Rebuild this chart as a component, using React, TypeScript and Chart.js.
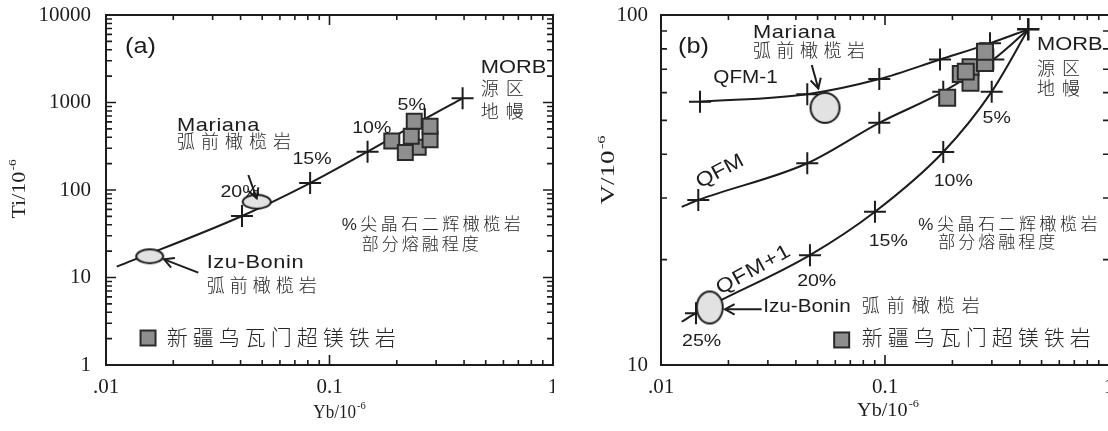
import React, { useEffect, useRef } from 'react';
import { Chart, registerables } from 'chart.js';

Chart.register(...registerables);

const SANS = '"Liberation Sans", Arial, sans-serif';
const CJK = '"Noto Sans CJK SC", "Noto Sans CJK JP", sans-serif';
const SERIF = '"Liberation Serif", "Times New Roman", serif';
const INK = '#1c1c1c';
const LATIN_STRETCH = 1.15;

// ---------- shared x axis (Yb) ----------
const ybTickValues = [0.01, 0.1, 1];
const ybTickLabels = ['.01', '0.1', '1'];

// ---------- panel (a): Ti vs Yb ----------
const aTiTickValues = [1, 10, 100, 1000, 10000];
const aTiTickLabels = ['1', '10', '100', '1000', '10000'];
const aMeltYb = [0.01117, 0.0406, 0.0819, 0.148, 0.267, 0.394];
const aMeltTi = [13.3, 50.5, 120, 274, 648, 1117];
const aCrossYb = [0.0406, 0.0819, 0.148, 0.267, 0.394];
const aCrossTi = [50.5, 120, 274, 648, 1117];
const aForearcNames = ['Izu-Bonin', 'Mariana'];
const aForearcYb = [0.01569, 0.04723];
const aForearcTi = [17.47, 73.5];
const aSampleYb = [0.2494, 0.19, 0.2184, 0.2322, 0.2394, 0.2818, 0.2818];
const aSampleTi = [308, 363, 268, 412, 611, 375, 535];

// ---------- panel (b): V vs Yb ----------
const bVTickValues = [10, 100];
const bVTickLabels = ['10', '100'];
const bQfmM1Yb = [0.01493, 0.04498, 0.0943, 0.176, 0.2943, 0.436];
const bQfmM1V = [56.5, 59.4, 65.6, 74.6, 83.0, 91.0];
const bQfmYb = [0.01237, 0.01467, 0.04498, 0.0943, 0.182, 0.3045, 0.436];
const bQfmV = [28.3, 29.6, 37.7, 49.2, 60.4, 74.6, 91.0];
const bQfmP1Yb = [0.01237, 0.01433, 0.04624, 0.0902, 0.182, 0.2995, 0.436];
const bQfmP1V = [13.29, 14.06, 20.6, 27.4, 40.6, 60.4, 91.0];
const bForearcNames = ['Izu-Bonin', 'Mariana'];
const bForearcYb = [0.0165, 0.054];
const bForearcV = [14.6, 54.3];
const bSampleYb = [0.241, 0.2179, 0.2408, 0.2294, 0.1895, 0.2795, 0.2795];
const bSampleV = [70.9, 67.8, 64.0, 68.9, 58.0, 72.9, 78.5];

type Lbl = { text: string; x: number; y: number; size: number; ls: number; cjk?: boolean; align?: 'left' | 'center'; rot?: number };
type Arrow = { x1: number; y1: number; x2: number; y2: number };

const aLabels: Lbl[] = [
  { text: '(a)', x: 0.01216, y: 4307, size: 22, ls: 0 },
  { text: 'Mariana', x: 0.0208, y: 539, size: 19, ls: 0.5 },
  { text: '弧前橄榄岩', x: 0.0208, y: 344, size: 18, ls: 6, cjk: true },
  { text: '20%', x: 0.03977, y: 94.9, size: 17, ls: 0, align: 'center' },
  { text: '15%', x: 0.08351, y: 226, size: 17, ls: 0, align: 'center' },
  { text: '10%', x: 0.1545, y: 511, size: 17, ls: 0, align: 'center' },
  { text: '5%', x: 0.2332, y: 936, size: 17, ls: 0, align: 'center' },
  { text: 'MORB', x: 0.4747, y: 2478, size: 19, ls: 0 },
  { text: '源区', x: 0.4747, y: 1389, size: 18, ls: 7, cjk: true },
  { text: '地幔', x: 0.4747, y: 759, size: 18, ls: 7, cjk: true },
  { text: '%尖晶石二辉橄榄岩', x: 0.1134, y: 39.8, size: 17, ls: 3.5, cjk: true },
  { text: '部分熔融程度', x: 0.1393, y: 23.5, size: 17, ls: 3, cjk: true },
  { text: 'Izu-Bonin', x: 0.02822, y: 14.65, size: 19, ls: 0.5 },
  { text: '弧前橄榄岩', x: 0.02822, y: 7.85, size: 18, ls: 5, cjk: true },
  { text: '新疆乌瓦门超镁铁岩', x: 0.01869, y: 1.966, size: 21, ls: 5, cjk: true },
];
const aArrows: Arrow[] = [
  { x1: 0.04332, y1: 148.4, x2: 0.04723, y2: 80.4 },
  { x1: 0.02588, y1: 11.35, x2: 0.01818, y2: 16.14 },
];

const bLabels: Lbl[] = [
  { text: '(b)', x: 0.01191, y: 81.2, size: 22, ls: 0 },
  { text: 'Mariana', x: 0.02574, y: 88.7, size: 19, ls: 0.5 },
  { text: '弧前橄榄岩', x: 0.02574, y: 78.4, size: 18, ls: 5.5, cjk: true },
  { text: 'QFM-1', x: 0.01712, y: 65.9, size: 18, ls: 0 },
  { text: 'QFM', x: 0.01834, y: 35.7, size: 20, ls: 0, align: 'center', rot: -28 },
  { text: 'QFM+1', x: 0.02582, y: 18.67, size: 20, ls: 1, align: 'center', rot: -29 },
  { text: '20%', x: 0.04955, y: 17.3, size: 17, ls: 0, align: 'center' },
  { text: '25%', x: 0.01519, y: 11.66, size: 17, ls: 0, align: 'center' },
  { text: 'Izu-Bonin', x: 0.0286, y: 14.68, size: 18, ls: 0 },
  { text: '弧前橄榄岩', x: 0.0787, y: 14.68, size: 18, ls: 7, cjk: true },
  { text: '15%', x: 0.1034, y: 22.5, size: 17, ls: 0, align: 'center' },
  { text: '10%', x: 0.2018, y: 33.4, size: 17, ls: 0, align: 'center' },
  { text: '5%', x: 0.3152, y: 50.7, size: 17, ls: 0, align: 'center' },
  { text: 'MORB', x: 0.4771, y: 82.1, size: 19, ls: 0 },
  { text: '源区', x: 0.4771, y: 69.7, size: 18, ls: 7, cjk: true },
  { text: '地幔', x: 0.4771, y: 61.1, size: 18, ls: 7, cjk: true },
  { text: '%尖晶石二辉橄榄岩', x: 0.1408, y: 25.1, size: 17, ls: 3.5, cjk: true },
  { text: '部分熔融程度', x: 0.173, y: 22.3, size: 17, ls: 3, cjk: true },
  { text: '新疆乌瓦门超镁铁岩', x: 0.0787, y: 11.87, size: 21, ls: 5, cjk: true },
];
const bArrows: Arrow[] = [
  { x1: 0.0471, y1: 71.97, x2: 0.05038, y2: 61.7 },
  { x1: 0.02816, y1: 14.42, x2: 0.0193, y2: 14.42 },
];

interface Spec {
  canvasWidth: number;
  yMin: number; yMax: number;
  yTickValues: number[]; yTickLabels: string[];
  yAxisWidth: number; yPad: number;
  curves: { x: number[]; y: number[] }[];
  crosses: { x: number[]; y: number[] }[];
  fieldNames: string[]; fieldX: number[]; fieldY: number[]; fieldSizes: [number, number][];
  sampleX: number[]; sampleY: number[]; sampleRadius: number;
  labels: Lbl[]; arrows: Arrow[];
  legendMarker: { x: number; y: number; size: number };
  xTitle: [string, string]; yTitle: [string, string];
  xTitleDx: number; xTitleY: number; xTitleSx: number;
  yTitleX: number; yTitleY: number; yTitleSx: number;
}

const specA: Spec = {
  canvasWidth: 554,
  yMin: 1, yMax: 10000,
  yTickValues: aTiTickValues, yTickLabels: aTiTickLabels,
  yAxisWidth: 106, yPad: 15,
  curves: [{ x: aMeltYb, y: aMeltTi }],
  crosses: [{ x: aCrossYb, y: aCrossTi }],
  fieldNames: aForearcNames, fieldX: aForearcYb, fieldY: aForearcTi, fieldSizes: [[27, 14], [28, 14]],
  sampleX: aSampleYb, sampleY: aSampleTi, sampleRadius: 10.6,
  labels: aLabels, arrows: aArrows,
  legendMarker: { x: 0.01542, y: 2.035, size: 15 },
  xTitle: ['Yb/10', '-6'], yTitle: ['Ti/10', '-6'],
  xTitleDx: 10, xTitleY: 412, xTitleSx: 0.95,
  yTitleX: 19, yTitleY: 189, yTitleSx: 1.22,
};

const specB: Spec = {
  canvasWidth: 556,
  yMin: 10, yMax: 100,
  yTickValues: bVTickValues, yTickLabels: bVTickLabels,
  yAxisWidth: 107, yPad: 13,
  curves: [
    { x: bQfmM1Yb, y: bQfmM1V },
    { x: bQfmYb, y: bQfmV },
    { x: bQfmP1Yb, y: bQfmP1V },
  ],
  crosses: [
    { x: bQfmM1Yb, y: bQfmM1V },
    { x: bQfmYb.slice(1), y: bQfmV.slice(1) },
    { x: bQfmP1Yb.slice(1), y: bQfmP1V.slice(1) },
  ],
  fieldNames: bForearcNames, fieldX: bForearcYb, fieldY: bForearcV, fieldSizes: [[26, 32], [29, 30]],
  sampleX: bSampleYb, sampleY: bSampleV, sampleRadius: 11.3,
  labels: bLabels, arrows: bArrows,
  legendMarker: { x: 0.06406, y: 11.79, size: 15 },
  xTitle: ['Yb/10', '-6'], yTitle: ['V/10', '-6'],
  xTitleDx: 3, xTitleY: 410, xTitleSx: 1.12,
  yTitleX: 54, yTitleY: 170, yTitleSx: 1.5,
};

function makeEllipse(w: number, h: number): HTMLCanvasElement {
  const c = document.createElement('canvas');
  c.width = w + 4;
  c.height = h + 4;
  const g = c.getContext('2d')!;
  g.beginPath();
  g.ellipse(c.width / 2, c.height / 2, w / 2, h / 2, 0, 0, Math.PI * 2);
  g.fillStyle = '#e2e2e2';
  g.fill();
  g.lineWidth = 2;
  g.strokeStyle = INK;
  g.stroke();
  return c;
}

function drawLabel(ctx: CanvasRenderingContext2D, a: Lbl, px: number, py: number) {
  ctx.save();
  ctx.font = a.cjk ? `300 ${a.size}px ${SANS.split(',')[0]}, ${CJK}` : `${a.size}px ${SANS}`;
  (ctx as any).letterSpacing = `${a.ls}px`;
  ctx.fillStyle = a.cjk ? '#262626' : INK;
  ctx.textBaseline = 'middle';
  ctx.textAlign = 'left';
  const w = ctx.measureText(a.text).width - a.ls;
  const sx = a.cjk ? 1 : LATIN_STRETCH;
  ctx.translate(px, py);
  if (a.rot) ctx.rotate((a.rot * Math.PI) / 180);
  ctx.scale(sx, 1);
  const x0 = a.align === 'center' ? -w / 2 : 0;
  ctx.fillText(a.text, x0, 0);
  (ctx as any).letterSpacing = '0px';
  ctx.restore();
}

function drawArrow(ctx: CanvasRenderingContext2D, x1: number, y1: number, x2: number, y2: number) {
  ctx.beginPath();
  ctx.moveTo(x1, y1);
  ctx.lineTo(x2, y2);
  ctx.stroke();
  const a = Math.atan2(y2 - y1, x2 - x1);
  const L = 11;
  const sp = 0.5;
  ctx.beginPath();
  ctx.moveTo(x2 - L * Math.cos(a - sp), y2 - L * Math.sin(a - sp));
  ctx.lineTo(x2, y2);
  ctx.lineTo(x2 - L * Math.cos(a + sp), y2 - L * Math.sin(a + sp));
  ctx.stroke();
}

function supTitle(ctx: CanvasRenderingContext2D, base: string, sup: string, cx: number, cy: number, vertical: boolean, sx: number) {
  ctx.save();
  ctx.translate(cx, cy);
  if (vertical) ctx.rotate(-Math.PI / 2);
  ctx.scale(sx, 1);
  ctx.fillStyle = INK;
  ctx.textBaseline = 'alphabetic';
  ctx.textAlign = 'left';
  ctx.font = `18px ${SERIF}`;
  const wb = ctx.measureText(base).width;
  ctx.font = `11px ${SERIF}`;
  const ws = ctx.measureText(sup).width;
  const x0 = -(wb + 1 + ws) / 2;
  ctx.font = `18px ${SERIF}`;
  ctx.fillText(base, x0, 6);
  ctx.font = `11px ${SERIF}`;
  ctx.fillText(sup, x0 + wb + 1, -3);
  ctx.restore();
}

function makeOverlay(spec: Spec) {
  return {
    id: 'overlay',
    afterDatasetsDraw(chart: any) {
      const ctx: CanvasRenderingContext2D = chart.ctx;
      const xs = chart.scales.x;
      const ys = chart.scales.y;
      ctx.save();
      ctx.strokeStyle = INK;
      ctx.lineWidth = 2;
      ctx.lineJoin = 'miter';
      for (const ar of spec.arrows) {
        drawArrow(ctx, xs.getPixelForValue(ar.x1), ys.getPixelForValue(ar.y1), xs.getPixelForValue(ar.x2), ys.getPixelForValue(ar.y2));
      }
      const lm = spec.legendMarker;
      const lx = xs.getPixelForValue(lm.x);
      const ly = ys.getPixelForValue(lm.y);
      ctx.fillStyle = '#8e8e8e';
      ctx.fillRect(lx - lm.size / 2, ly - lm.size / 2, lm.size, lm.size);
      ctx.strokeStyle = '#2a2a2a';
      ctx.strokeRect(lx - lm.size / 2, ly - lm.size / 2, lm.size, lm.size);
      ctx.restore();
      for (const l of spec.labels) {
        drawLabel(ctx, l, xs.getPixelForValue(l.x), ys.getPixelForValue(l.y));
      }
    },
    afterDraw(chart: any) {
      const ctx: CanvasRenderingContext2D = chart.ctx;
      const { left, right, top, bottom } = chart.chartArea;
      const xs = chart.scales.x;
      const ys = chart.scales.y;
      ctx.save();
      ctx.strokeStyle = INK;
      ctx.lineWidth = 2;
      ctx.strokeRect(left, top, right - left, bottom - top);
      ctx.lineWidth = 1.6;
      ctx.beginPath();
      const xd0 = Math.round(Math.log10(0.01));
      const xd1 = Math.round(Math.log10(1));
      for (let d = xd0; d < xd1; d++) {
        for (let k = 1; k <= 9; k++) {
          const p = xs.getPixelForValue(k * Math.pow(10, d));
          const len = k === 1 ? 10 : 5;
          ctx.moveTo(p, bottom); ctx.lineTo(p, bottom - len);
          ctx.moveTo(p, top); ctx.lineTo(p, top + len);
        }
      }
      const yd0 = Math.round(Math.log10(spec.yMin));
      const yd1 = Math.round(Math.log10(spec.yMax));
      for (let d = yd0; d < yd1; d++) {
        for (let k = 1; k <= 9; k++) {
          const p = ys.getPixelForValue(k * Math.pow(10, d));
          const len = k === 1 ? 10 : 6;
          ctx.moveTo(left, p); ctx.lineTo(left + len, p);
          ctx.moveTo(right, p); ctx.lineTo(right - len, p);
        }
      }
      ctx.stroke();
      ctx.restore();
      supTitle(ctx, spec.xTitle[0], spec.xTitle[1], (left + right) / 2 + spec.xTitleDx, spec.xTitleY, false, spec.xTitleSx);
      supTitle(ctx, spec.yTitle[0], spec.yTitle[1], spec.yTitleX, spec.yTitleY, true, spec.yTitleSx);
    },
  };
}

function build(canvas: HTMLCanvasElement, spec: Spec): Chart {
  const pts = (xa: number[], ya: number[]) => xa.map((x, i) => ({ x, y: ya[i] }));
  const fieldStyles = spec.fieldSizes.map(([w, h]) => makeEllipse(w, h));
  const datasets: any[] = [
    {
      label: '新疆乌瓦门超镁铁岩',
      data: pts(spec.sampleX, spec.sampleY),
      pointStyle: 'rect',
      pointRadius: spec.sampleRadius,
      pointBackgroundColor: '#8e8e8e',
      pointBorderColor: '#2a2a2a',
      pointBorderWidth: 2,
      showLine: false,
      order: 0,
    },
    {
      label: spec.fieldNames.join(' / '),
      data: pts(spec.fieldX, spec.fieldY),
      pointStyle: fieldStyles,
      pointRadius: 10,
      showLine: false,
      order: 1,
    },
    ...spec.crosses.map((c, i) => ({
      label: 'melting ' + i,
      data: pts(c.x, c.y),
      pointStyle: 'cross',
      pointRadius: 11,
      pointBorderColor: INK,
      pointBorderWidth: 2,
      showLine: false,
      order: 2,
    })),
    ...spec.curves.map((c, i) => ({
      label: 'curve ' + i,
      data: pts(c.x, c.y),
      showLine: true,
      pointRadius: 0,
      borderColor: INK,
      borderWidth: 2,
      cubicInterpolationMode: 'monotone',
      order: 3,
    })),
  ];
  return new Chart(canvas, {
    type: 'scatter',
    data: { datasets },
    options: {
      responsive: false,
      animation: false,
      events: [],
      layout: { autoPadding: false, padding: { left: 0, right: 1, top: 15, bottom: 0 } },
      plugins: { legend: { display: false }, tooltip: { enabled: false } },
      scales: {
        x: {
          type: 'logarithmic',
          min: 0.01,
          max: 1,
          grid: { display: false, drawTicks: false },
          border: { display: false },
          afterBuildTicks: (s: any) => { s.ticks = ybTickValues.map((v) => ({ value: v })); },
          afterFit: (s: any) => { s.height = 66; s.paddingLeft = 0; s.paddingRight = 0; },
          ticks: {
            autoSkip: false,
            maxRotation: 0,
            minRotation: 0,
            padding: 10,
            color: INK,
            font: { family: SERIF, size: 21 },
            callback: (_v: any, i: number) => ybTickLabels[i],
          },
        },
        y: {
          type: 'logarithmic',
          min: spec.yMin,
          max: spec.yMax,
          grid: { display: false, drawTicks: false },
          border: { display: false },
          afterBuildTicks: (s: any) => { s.ticks = spec.yTickValues.map((v) => ({ value: v })); },
          afterFit: (s: any) => { s.width = spec.yAxisWidth; s.paddingTop = 0; s.paddingBottom = 0; },
          ticks: {
            autoSkip: false,
            padding: spec.yPad,
            color: INK,
            font: { family: SERIF, size: 21 },
            callback: (_v: any, i: number) => spec.yTickLabels[i],
          },
        },
      },
    } as any,
    plugins: [makeOverlay(spec)],
  });
}

export default function App() {
  const refA = useRef<HTMLCanvasElement>(null);
  const refB = useRef<HTMLCanvasElement>(null);
  useEffect(() => {
    const ca = build(refA.current!, specA);
    const cb = build(refB.current!, specB);
    return () => {
      ca.destroy();
      cb.destroy();
    };
  }, []);
  return (
    <div style={{ position: 'absolute', left: 0, top: 0, width: 1108, height: 431, overflow: 'hidden', background: '#fff' }}>
      <canvas ref={refA} width={specA.canvasWidth} height={431} style={{ position: 'absolute', left: 0, top: 0, width: specA.canvasWidth, height: 431 }} />
      <canvas ref={refB} width={specB.canvasWidth} height={431} style={{ position: 'absolute', left: 554, top: 0, width: specB.canvasWidth, height: 431 }} />
    </div>
  );
}
